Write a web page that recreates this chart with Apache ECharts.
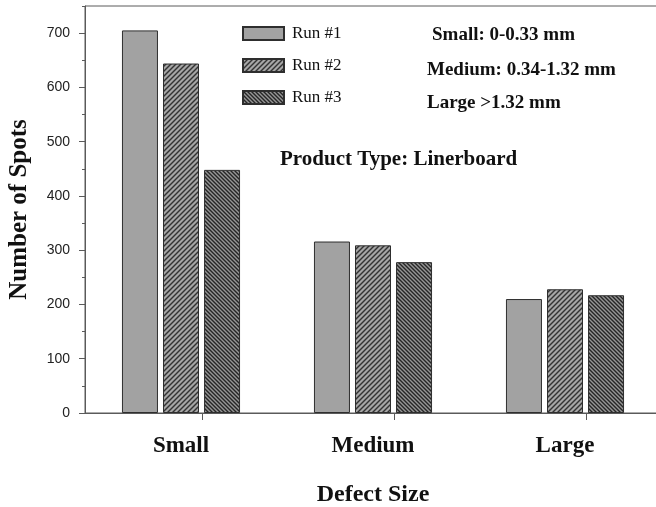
<!DOCTYPE html>
<html>
<head>
<meta charset="utf-8">
<script src="https://cdn.jsdelivr.net/npm/echarts@6/dist/echarts.min.js"></script>
<style>
  html, body { margin: 0; padding: 0; background: #fff; }
  #chart { width: 656px; height: 507px; }
</style>
</head>
<body>
<div id="chart"></div>
<script>
// Defect size classes and spot counts per run
const categories = ['Small', 'Medium', 'Large'];
const run1 = [705, 316, 210];
const run2 = [644, 309, 228];
const run3 = [448, 278, 217];
const seriesNames = ['Run #1', 'Run #2', 'Run #3'];
const sizeNotes = ['Small: 0-0.33 mm', 'Medium: 0.34-1.32 mm', 'Large >1.32 mm'];
const productNote = 'Product Type: Linerboard';

const SERIF = '"Liberation Serif", "Times New Roman", serif';
const SANS = '"Liberation Sans", Arial, sans-serif';

// Diagonal hatch fill: dir = 1 for "/", -1 for "\"
function hatch(dir, period, lineW, bg, fg) {
  const c = document.createElement('canvas');
  c.width = period; c.height = period;
  const g = c.getContext('2d');
  g.fillStyle = bg;
  g.fillRect(0, 0, period, period);
  g.strokeStyle = fg;
  g.lineWidth = lineW;
  for (let k = -1; k <= 1; k++) {
    const o = k * period;
    g.beginPath();
    if (dir > 0) {
      g.moveTo(o - 1, period + 1);
      g.lineTo(o + period + 1, -1);
    } else {
      g.moveTo(o - 1, -1);
      g.lineTo(o + period + 1, period + 1);
    }
    g.stroke();
  }
  return { image: c, repeat: 'repeat' };
}

const fills = [
  '#a2a2a2',
  hatch(1, 5, 1.4, '#a6a6a6', '#333333'),
  hatch(-1, 4, 1.4, '#969696', '#262626')
];
const seriesData = [run1, run2, run3];

const chart = echarts.init(document.getElementById('chart'));

const option = {
  animation: false,
  backgroundColor: '#ffffff',
  grid: {
    // plot frame runs past the right edge of the canvas
    left: 85, top: 6, width: 576, bottom: 94,
    containLabel: false,
    outerBoundsMode: 'none',
    show: true, borderColor: '#5a5a5a', borderWidth: 1, backgroundColor: 'transparent'
  },
  legend: {
    orient: 'vertical',
    left: 242, top: 25,
    padding: 0,
    itemWidth: 41, itemHeight: 13, itemGap: 15,
    icon: 'rect',
    data: seriesNames,
    textStyle: { fontFamily: SERIF, fontSize: 17, color: '#111', padding: [0, 0, 0, 3] }
  },
  xAxis: [
    {
      type: 'category',
      data: categories,
      axisLine: { lineStyle: { color: '#5a5a5a' } },
      axisTick: { show: false },
      axisLabel: {
        margin: 22,
        fontFamily: SERIF, fontWeight: 'bold', fontSize: 23, color: '#111'
      },
      name: 'Defect Size',
      nameLocation: 'middle',
      nameGap: 70,
      nameTextStyle: { fontFamily: SERIF, fontWeight: 'bold', fontSize: 24, color: '#111' }
    },
    {
      // tick marks along the bottom axis
      type: 'value',
      position: 'bottom',
      min: 0, max: 3,
      axisLine: { show: false },
      axisLabel: { show: false },
      splitLine: { show: false },
      axisTick: {
        show: true, length: 7, inside: false,
        customValues: [0.61, 1.61, 2.61],
        lineStyle: { color: '#5a5a5a' }
      }
    }
  ],
  yAxis: [
    {
      type: 'value',
      min: 0, max: 750, interval: 100,
      axisLine: { show: true, lineStyle: { color: '#5a5a5a' } },
      axisTick: { show: true, length: 6, lineStyle: { color: '#5a5a5a' } },
      splitLine: { show: false },
      axisLabel: {
        showMaxLabel: false,
        margin: 15,
        fontFamily: SANS, fontSize: 14, color: '#222'
      },
      name: 'Number of Spots',
      nameLocation: 'middle',
      nameGap: 53,
      nameTextStyle: { fontFamily: SERIF, fontWeight: 'bold', fontSize: 25, color: '#111' }
    },
    {
      // minor ticks every 50
      type: 'value',
      min: 0, max: 750, interval: 50,
      position: 'left',
      axisLine: { show: false },
      axisLabel: { show: false },
      splitLine: { show: false },
      axisTick: { show: true, length: 3, lineStyle: { color: '#5a5a5a' } }
    }
  ],
  series: seriesNames.map((name, i) => ({
    name: name,
    type: 'bar',
    xAxisIndex: 0,
    yAxisIndex: 0,
    data: seriesData[i],
    barWidth: 36,
    barGap: '14%',
    itemStyle: { color: fills[i], borderColor: '#2e2e2e', borderWidth: 1 }
  })),
  graphic: [
    {
      type: 'text', left: 432, top: 26,
      style: { text: sizeNotes[0], font: 'bold 19px ' + SERIF, fill: '#111' }
    },
    {
      type: 'text', left: 427, top: 61,
      style: { text: sizeNotes[1], font: 'bold 19px ' + SERIF, fill: '#111' }
    },
    {
      type: 'text', left: 427, top: 94,
      style: { text: sizeNotes[2], font: 'bold 19px ' + SERIF, fill: '#111' }
    },
    {
      type: 'text', left: 280, top: 149,
      style: { text: productNote, font: 'bold 21px ' + SERIF, fill: '#111' }
    }
  ]
};

chart.setOption(option);
</script>
</body>
</html>
